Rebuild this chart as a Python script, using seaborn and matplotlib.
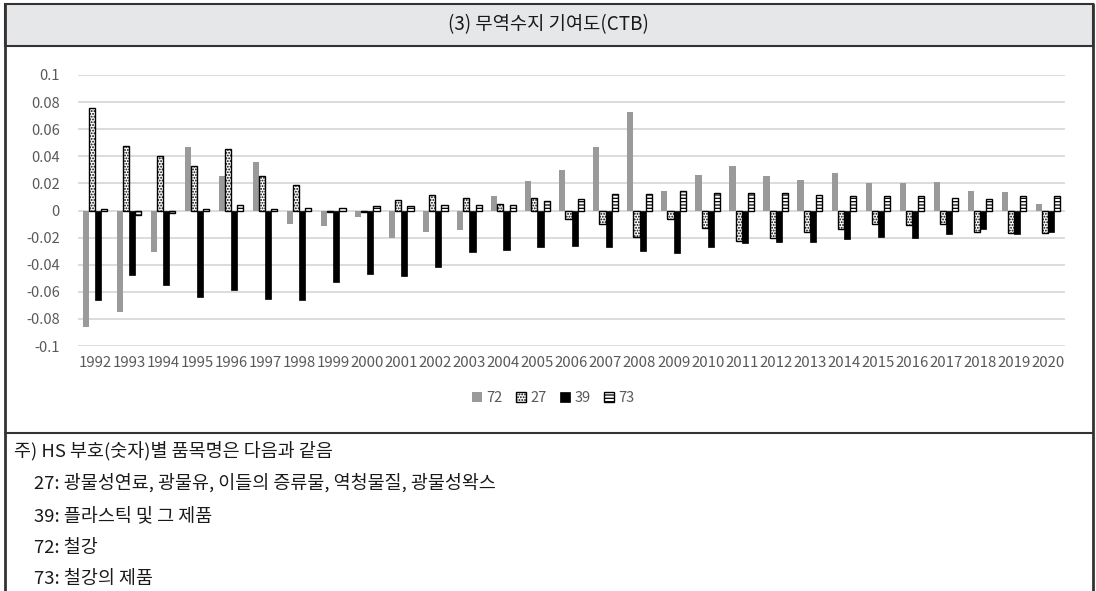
import matplotlib
matplotlib.use("Agg")
import matplotlib.pyplot as plt
import seaborn as sns
import pandas as pd
import numpy as np
from matplotlib.patches import Patch, Rectangle
from matplotlib.lines import Line2D
from matplotlib.ticker import FuncFormatter

# HS codes and years
years = [str(y) for y in range(1992, 2021)]
codes = ["72", "27", "39", "73"]

# Contribution to trade balance (CTB) by HS code
v72 = [-0.0857, -0.0748, -0.0304, 0.0472, 0.0257, 0.0358, -0.0096, -0.0116, -0.0050, -0.0200,
       -0.0156, -0.0146, 0.0106, 0.0217, 0.0300, 0.0472, 0.0726, 0.0143, 0.0264, 0.0331,
       0.0257, 0.0227, 0.0274, 0.0200, 0.0200, 0.0207, 0.0141, 0.0133, 0.0049]
v27 = [0.0753, 0.0479, 0.0402, 0.0328, 0.0452, 0.0254, 0.0188, -0.0010, -0.0010, 0.0074,
       0.0114, 0.0094, 0.0050, 0.0094, -0.0062, -0.0096, -0.0193, -0.0062, -0.0128, -0.0222,
       -0.0202, -0.0156, -0.0136, -0.0096, -0.0110, -0.0099, -0.0156, -0.0165, -0.0165]
v39 = [-0.0659, -0.0474, -0.0550, -0.0635, -0.0588, -0.0654, -0.0660, -0.0530, -0.0467, -0.0484,
       -0.0417, -0.0306, -0.0289, -0.0269, -0.0260, -0.0269, -0.0296, -0.0314, -0.0269, -0.0240,
       -0.0232, -0.0232, -0.0212, -0.0195, -0.0202, -0.0173, -0.0136, -0.0173, -0.0156]
v73 = [0.0008, -0.0030, -0.0015, 0.0008, 0.0040, 0.0008, 0.0020, 0.0020, 0.0030, 0.0030,
       0.0040, 0.0040, 0.0040, 0.0067, 0.0086, 0.0123, 0.0123, 0.0143, 0.0131, 0.0131,
       0.0131, 0.0114, 0.0106, 0.0106, 0.0106, 0.0094, 0.0086, 0.0106, 0.0106]

title = "(3) 무역수지 기여도(CTB)"
notes = [
    "주) HS 부호(숫자)별 품목명은 다음과 같음",
    "27: 광물성연료, 광물유, 이들의 증류물, 역청물질, 광물성왁스",
    "39: 플라스틱 및 그 제품",
    "72: 철강",
    "73: 철강의 제품",
]

sns.set_theme(style="white")
plt.rcParams["font.family"] = ["Noto Sans CJK KR", "DejaVu Sans"]
plt.rcParams["hatch.linewidth"] = 0.9

df = pd.DataFrame({
    "year": years * len(codes),
    "code": np.repeat(codes, len(years)),
    "value": v72 + v27 + v39 + v73,
})

W, H = 1096, 591
fig = plt.figure(figsize=(W / 100, H / 100), dpi=100)
fig.patch.set_facecolor("white")


def fx(px):
    return px / W


def fy(py):
    return 1 - py / H


ax = fig.add_axes([fx(78), fy(346), fx(1065) - fx(78), fy(75) - fy(346)])

palette = {"72": "#9a9a9a", "27": "white", "39": "black", "73": "white"}
sns.barplot(data=df, x="year", y="value", hue="code", order=years, hue_order=codes,
            palette=palette, width=0.72, saturation=1, errorbar=None, legend=False, ax=ax)

styles = {
    "72": dict(facecolor="#9a9a9a", edgecolor="none", hatch=None, linewidth=0),
    "27": dict(facecolor="white", edgecolor="black", hatch="......", linewidth=1.0),
    "39": dict(facecolor="black", edgecolor="black", hatch=None, linewidth=0.5),
    "73": dict(facecolor="white", edgecolor="black", hatch="-----", linewidth=1.0),
}
for code, cont in zip(codes, ax.containers):
    st = styles[code]
    for bar in cont:
        bar.set_facecolor(st["facecolor"])
        bar.set_edgecolor(st["edgecolor"])
        bar.set_linewidth(st["linewidth"])
        if st["hatch"]:
            bar.set_hatch(st["hatch"])

ax.set_ylim(-0.1, 0.1)
ax.set_yticks(np.round(np.arange(-0.1, 0.1001, 0.02), 2))
ax.yaxis.set_major_formatter(FuncFormatter(lambda v, p: "0" if abs(v) < 1e-9 else f"{v:g}"))
ax.yaxis.grid(True, color="#d9d9d9", linewidth=1.3)
ax.set_axisbelow(True)
for s in ax.spines.values():
    s.set_visible(False)
ax.set_xlabel("")
ax.set_ylabel("")
ax.tick_params(axis="both", length=0, colors="#595959")
ax.tick_params(axis="x", pad=7, labelsize=10.8)
ax.tick_params(axis="y", pad=13, labelsize=10.5)

# Legend below the x axis
handles = [Patch(**{k: v for k, v in styles[c].items() if v is not None}) for c in codes]
fig.legend(handles, codes, loc="center", bbox_to_anchor=(fx(553), fy(398)), ncol=4,
           frameon=False, handlelength=0.7, handleheight=0.7, handletextpad=0.3,
           columnspacing=0.9, fontsize=10.5, labelcolor="#595959")

# Table-like frame: title band, chart cell, notes cell
frame_col = "#333333"
fig.add_artist(Rectangle((fx(5), fy(46)), fx(1093) - fx(5), fy(4) - fy(46),
                         transform=fig.transFigure, facecolor="#e6e7e8",
                         edgecolor=frame_col, linewidth=1.5))
fig.add_artist(Line2D([fx(5), fx(5)], [fy(4), 0], transform=fig.transFigure,
                      color=frame_col, linewidth=2))
fig.add_artist(Line2D([fx(1093), fx(1093)], [fy(4), 0], transform=fig.transFigure,
                      color=frame_col, linewidth=2))
fig.add_artist(Line2D([fx(5), fx(1093)], [fy(433), fy(433)], transform=fig.transFigure,
                      color=frame_col, linewidth=1.5))

fig.text(fx(548), fy(25), title, ha="center", va="center", fontsize=13.5, color="#1a1a1a")

note_y = [451, 483, 516, 548, 579]
note_x = [14, 34, 34, 34, 34]
for t, x, y in zip(notes, note_x, note_y):
    fig.text(fx(x), fy(y), t, ha="left", va="center", fontsize=13.3, color="#1a1a1a")

fig.savefig("out.png", dpi=100, facecolor="white")
